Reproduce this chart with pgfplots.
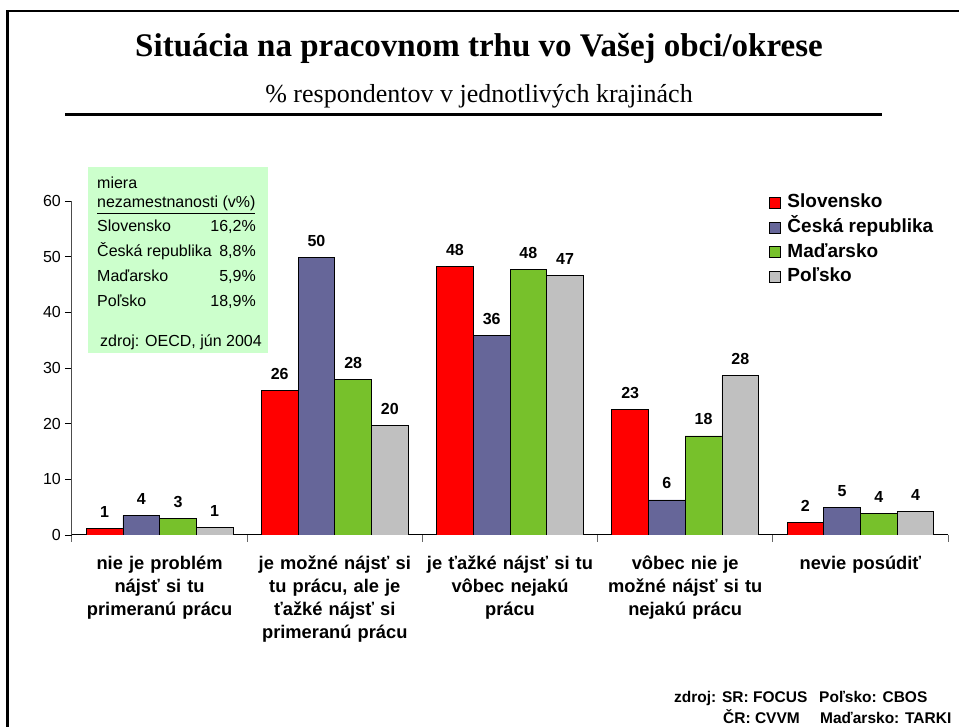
\documentclass[border=0pt]{standalone}
\usepackage{fontspec}
\setmainfont{Liberation Serif}
\newfontfamily\arial{Liberation Sans}
\usepackage{pgfplots}
\usepackage{pgfplotstable}
\pgfplotsset{compat=1.18}
\definecolor{cRed}{RGB}{255,0,0}
\definecolor{cBlue}{RGB}{102,102,153}
\definecolor{cGreen}{RGB}{119,193,43}
\definecolor{cGray}{RGB}{192,192,192}
\definecolor{boxGreen}{RGB}{204,255,204}
\pgfplotstableread{
x y lab
0 1.2 1
1 26.0 26
2 48.3 48
3 22.6 23
4 2.3 2
}\sk
\pgfplotstableread{
x y lab
0 3.5 4
1 49.8 50
2 35.9 36
3 6.3 6
4 5.0 5
}\cz
\pgfplotstableread{
x y lab
0 3.0 3
1 28.0 28
2 47.7 48
3 17.8 18
4 3.9 4
}\hu
\pgfplotstableread{
x y lab
0 1.4 1
1 19.7 20
2 46.7 47
3 28.6 28
4 4.3 4
}\pl
\begin{document}
\begin{tikzpicture}[x=1pt,y=1pt]
\path[use as bounding box] (0,0) rectangle (959,727);
\draw[line width=2.5pt] (7.5,-5) -- (7.5,716) -- (965,716);
\node[anchor=base, inner sep=0pt, font=\bfseries\fontsize{33}{36}\selectfont] at (479,670) {Situácia na pracovnom trhu vo Vašej obci/okrese};
\node[anchor=base, inner sep=0pt, font=\fontsize{26}{28}\selectfont] at (479,624) {\% respondentov v jednotlivých krajinách};
\draw[line width=3pt] (65,612.5) -- (882,612.5);
\begin{axis}[
  at={(72pt,192pt)}, anchor=south west,
  scale only axis, width=876pt, height=334pt,
  xmin=-0.5, xmax=4.5, ymin=0, ymax=60,
  axis x line*=bottom, axis y line*=left,
  x axis line style={black, line width=1pt, -},
  y axis line style={black!70, line width=1pt, -},
  ytick={0,10,...,60},
  xtick={0,1,2,3,4},
  minor xtick={-0.5,0.5,1.5,2.5,3.5,4.5},
  major x tick style={draw=none},
  minor x tick style={black!60, line width=1pt},
  y tick style={black, line width=0.8pt},
  tick align=outside,
  major tick length=7pt, minor tick length=7pt,
  /pgf/number format/assume math mode=true,
  yticklabel style={font=\arial\fontsize{16}{16}\selectfont, inner sep=0pt, xshift=-4pt},
  xticklabels={{nie je problém\\nájsť si tu\\primeranú prácu},
               {je možné nájsť si\\tu prácu, ale je\\ťažké nájsť si\\primeranú prácu},
               {je ťažké nájsť si tu\\vôbec nejakú\\prácu},
               {vôbec nie je\\možné nájsť si tu\\nejakú prácu},
               {nevie posúdiť}},
  xticklabel style={font=\arial\bfseries\fontsize{18.3}{22.8}\selectfont, text width=175pt, align=center, inner sep=0pt, anchor=north, yshift=-14pt},
  ybar=0pt, bar width=36.7pt,
  point meta=explicit symbolic,
  nodes near coords,
  every node near coord/.append style={font=\arial\bfseries\fontsize{16}{16}\selectfont, inner sep=0pt, anchor=south, yshift=10.5pt},
  legend style={at={(0.7957,1.0225)}, anchor=north west, draw=none, fill=none, inner sep=0pt,
     font=\arial\bfseries\fontsize{19}{19}\selectfont, row sep=6.7pt,
     nodes={inner sep=0pt, text height=14pt, text depth=4pt}},
  legend cell align=left,
  legend image code/.code={\draw[#1, draw=black, line width=0.7pt] (0pt,-5.5pt) rectangle (11pt,5.5pt); \path (17.5pt,0pt);},
]
\addplot[fill=cRed, draw=black, line width=0.8pt] table[x=x, y=y, meta=lab] {\sk};
\addplot[fill=cBlue, draw=black, line width=0.8pt] table[x=x, y=y, meta=lab] {\cz};
\addplot[fill=cGreen, draw=black, line width=0.8pt] table[x=x, y=y, meta=lab] {\hu};
\addplot[fill=cGray, draw=black, line width=0.8pt] table[x=x, y=y, meta=lab] {\pl};
\legend{Slovensko, Česká republika, Maďarsko, Poľsko}
\end{axis}
% info box
\fill[boxGreen] (87.7,373.7) rectangle (268.3,560.3);
\begin{scope}[every node/.style={inner sep=0pt, font=\arial\fontsize{16}{16}\selectfont}]
\node[anchor=base west] at (97,538) {miera};
\node[anchor=base west] at (97,519) {\underline{nezamestnanosti (v\%)}};
\node[anchor=base west] at (97,495) {Slovensko};
\node[anchor=base east] at (256,495) {16,2\%};
\node[anchor=base west] at (97,470.5) {Česká republika};
\node[anchor=base east] at (256,470.5) {8,8\%};
\node[anchor=base west] at (97,445) {Maďarsko};
\node[anchor=base east] at (256,445) {5,9\%};
\node[anchor=base west] at (97,420) {Poľsko};
\node[anchor=base east] at (256,420) {18,9\%};
\node[anchor=base west] at (100,380) {zdroj: OECD, jún 2004};
\end{scope}
% footer
\begin{scope}[every node/.style={inner sep=0pt, font=\arial\bfseries\fontsize{15.5}{15.5}\selectfont}]
\node[anchor=base west] at (674,24) {zdroj: SR: FOCUS};
\node[anchor=base west] at (819,24) {Poľsko: CBOS};
\node[anchor=base west] at (723,3) {ČR: CVVM};
\node[anchor=base west] at (820,3) {Maďarsko: TARKI};
\end{scope}
\end{tikzpicture}
\end{document}
